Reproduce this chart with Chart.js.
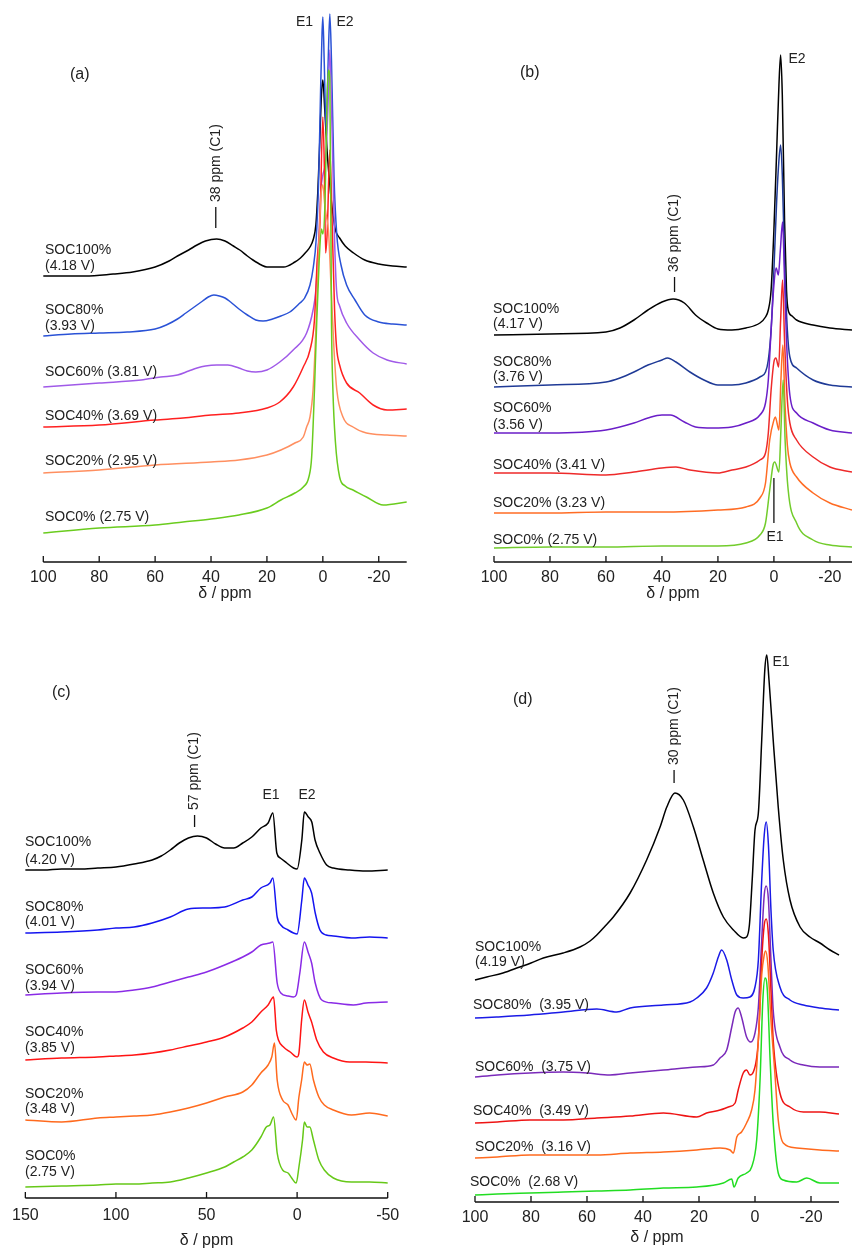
<!DOCTYPE html>
<html>
<head>
<meta charset="utf-8">
<script src="https://cdn.jsdelivr.net/npm/chart.js@4.4.0/dist/chart.umd.min.js"></script>
<style>
body { margin: 0; width: 852px; height: 1251px; overflow: hidden; background: #fff; position: relative; }
canvas { position: absolute; }
</style>
</head>
<body>
<canvas id="pa"></canvas>
<canvas id="pb"></canvas>
<canvas id="pc"></canvas>
<canvas id="pd"></canvas>
<script>
const FONT = '"Liberation Sans", Arial, sans-serif';

// ---- panel (a) : shift in ppm / intensity (a.u., stacked)
const aPpm100 = [100,85,75,68,60,55,52,48,45,42,38,35,32,29.7,27,25,22,20,14,10,8,6,4.6,3.5,2.5,1.8,1.2,0.5,0,-0.7,-1.5,-2.5,-3.5,-4.5,-6,-8,-11,-15,-20,-25,-30];
const aSoc100 = [286,286,288,290,295,301,306,312,317,321,323,321,316,312,306,302,297,295,295,300,304,310,315,322,337,370,412,467,482,452,412,377,350,332,324,316,309,302,298,296,295];
const aPpm80 = [100,90,80,70,60,56,52,49,46,43,41,39,37,35,33,30,27,24,21.4,18,15,11.8,8.2,6.5,4.6,3.4,2.4,1.5,0.8,0.3,0,-0.5,-1.2,-1.9,-2.5,-3.1,-4,-5,-6.5,-8.5,-11.5,-15,-20,-25,-30];
const aSoc80 = [226,228,229,230,233,237,243,249,255,261,265,267,266,264,260,253,247,242,241,243,246,250,259,264,277,295,322,382,472,527,545,500,430,500,548,500,385,327,297,277,262,247,240,238,237];
const aPpm60 = [100,80,65,58,52,48,45,42,38,34,30,27,24,20,15.4,10.6,5.8,3.5,2.5,1.5,0.7,0,-1,-1.8,-2.5,-3.3,-4.2,-4.9,-6,-8.5,-13.2,-18,-23,-30];
const aSoc60 = [175,179,182,185,187,191,194,196,197,197,194,191,190,192,200,212,229,252,272,322,372,387,402,452,512,432,322,272,256,239,222,209,202,198];
const aPpm40 = [100,80,60,50,40,30,20,15.4,10.6,7,4.6,3,2,1,0,-0.5,-1,-1.6,-2.5,-3.3,-4.2,-4.9,-6,-8.5,-13.2,-18,-23,-30];
const aSoc40 = [135,137,142,144,147,149,154,160,175,195,212,242,302,340,445,400,309,332,412,342,252,215,197,179,169,157,152,153];
const aPpm20 = [100,80,60,40,30,20,15,10,7,5.8,4.6,3.5,2.5,1.5,0.5,0,-0.7,-1.3,-2,-3,-4,-5,-7.2,-10.8,-15.6,-23,-30];
const aSoc20 = [89,92,97,100,102,107,112,119,125,135,145,172,232,312,372,377,357,345,332,272,212,172,145,135,129,127,126];
const aPpm0 = [100,80,60,50,40,30,20,15,10,7,5,4,3,2.2,1.3,0.5,0,-0.8,-1.5,-2,-2.5,-3.1,-3.6,-4.5,-6,-8,-10.8,-15.6,-21.6,-30];
const aSoc0 = [29,34,37,40,43,47,54,62,69,75,85,105,172,239,302,333,328,362,462,492,482,239,172,120,85,76,72,65,57,60];

// ---- panel (b)
const bPpm100 = [100,80,60,55,50,45,40,36,32,28,24,20,15,10,5,3,2,1,0,-1,-1.8,-2.4,-3,-3.8,-4.5,-5.1,-6.5,-8.1,-14,-20,-27.9];
const bSoc100 = [227,228,230,234,242,252,260,263,259,247,239,233,232,234,239,245,252,272,332,412,477,507,467,342,272,252,246,242,237,234,232];
const bPpm80 = [100,80,60,55,50,45,40,38,35,30,25,20,15,10,5,3,2,1,0,-1,-1.8,-2.4,-3,-3.8,-4.8,-5.7,-8.1,-14,-20,-27.9];
const bSoc80 = [175,177,180,184,190,197,202,204,200,190,182,177,177,179,185,190,202,232,292,362,402,417,387,302,232,205,194,182,177,175];
const bPpm60 = [100,80,60,50,45,40,37,32,28,22,15,10,5,3,2,1,0,-0.8,-1.6,-2.3,-3.1,-3.8,-4.5,-5.7,-8.1,-14,-20,-27.9];
const bSoc60 = [129,129,132,139,144,147,147,140,135,134,135,139,147,159,182,232,277,294,287,312,340,282,222,167,149,139,132,129];
const bPpm40 = [100,80,60,50,40,35,30,20,15,10,5,3,2,1,0,-0.7,-1.7,-2.4,-3.1,-3.8,-4.8,-5.7,-8.1,-14,-20,-27.9];
const bSoc40 = [89,89,87,90,94,95,92,89,92,95,102,109,129,172,200,204,195,242,282,222,162,139,122,105,95,90];
const bPpm20 = [100,80,60,40,20,10,5,3,1.5,0,-0.5,-1.8,-2.5,-3.2,-3.9,-4.8,-5.7,-8.1,-14,-20,-27.9];
const bSoc20 = [49,49,50,50,52,55,64,79,122,142,145,132,182,217,162,117,99,85,69,59,52];
const bPpm0 = [100,80,60,40,20,10,5,3,1.5,0.3,-0.3,-1.8,-2.5,-3.3,-4,-5.1,-8.1,-14,-20,-27.9];
const bSoc0 = [14,15,15,16,16,19,27,39,72,97,100,90,132,182,122,72,39,22,17,15];

// ---- panel (c)
const cPpm100 = [150,140,130,120,110,100,90,80,75,70,65,60,55,50,45,40,35,30,25,20,16,13.4,11.2,9.3,5.7,2,0,-2.6,-4,-6.2,-8.1,-9.9,-12.6,-16.3,-20,-29,-38,-50];
const cSoc100 = [328,328,329,329,330,331,334,338,342,348,355,360,362,360,354,350,350,355,361,370,375,385,345,340,335,330,329,358,386,381,376,358,345,333,330,328,327,328];
const cPpm80 = [150,130,110,100,90,80,70,60,50,40,30,25,20,15,13.4,11,9,5,2,0,-2.6,-4,-6,-8,-10,-12.6,-16,-20,-30,-40,-50];
const cSoc80 = [265,266,268,270,271,275,281,289,290,291,298,301,310,315,320,281,273,268,265,264,298,320,313,305,285,268,263,262,260,261,260];
const cPpm60 = [150,130,110,100,90,80,70,60,50,40,30,25,20,15,13.4,11,9,5,2,0.5,-1.5,-4,-6.2,-8,-10,-13.6,-20,-31,-38,-50];
const cSoc60 = [203,205,206,206,208,211,216,221,226,233,241,246,253,255,256,215,205,202,201,203,225,256,245,235,215,198,195,193,195,196];
const cPpm40 = [150,130,110,100,90,80,70,60,50,40,30,25,20,16,13,11.5,10.3,7.5,3.8,0,-1,-2.5,-4,-6,-8,-10.8,-14.5,-20,-29,-38,-50];
const cSoc40 = [138,140,141,142,143,145,148,152,156,161,170,176,186,193,201,168,158,151,146,141,145,178,198,186,176,158,146,140,136,136,135];
const cPpm20 = [150,130,110,100,90,80,70,60,50,40,30,25,20,16,14,12.5,11,8,5,3,0.5,-1,-2.5,-4,-5.5,-7,-9,-12,-15,-20,-30,-40,-50];
const cSoc20 = [78,76,80,81,82,83,86,90,95,101,106,113,125,133,141,155,118,98,93,85,78,101,118,136,133,134,118,101,93,88,83,85,82];
const cPpm0 = [150,130,110,100,90,80,70,60,50,40,35,30,25,20,17,15,13,11,8,5,3,0.5,-1,-3,-4,-5.5,-7,-9,-12,-15,-20,-30,-40,-50];
const cSoc0 = [11,12,13,14,14,15,16,20,25,31,36,41,48,61,71,73,81,45,28,25,20,15,31,58,76,71,71,58,38,28,20,16,16,15];

// ---- panel (d)
const dPpm100 = [100,95.8,90,84,80,75.6,68.5,62.5,58.9,56.5,53.5,50.6,44.6,38.7,33.9,31.5,28.6,25.6,22,18.5,14.9,11.3,7.7,4.2,3,2,1,0,-1.2,-2.4,-3.5,-4.2,-5,-6.5,-8.3,-10.1,-12.5,-16.1,-19.6,-23.2,-26.8,-30];
const dSoc100 = [222,225,229,235,239,244,249,255,261,267,276,285,309,342,375,395,409,402,375,342,309,285,272,264,265,277,322,372,389,462,532,547,522,462,395,342,302,275,265,259,252,247];
const dPpm80 = [100,92.3,80.4,68.5,56.5,49.4,44.6,32.7,23.2,20.8,17.3,14.9,13.1,11.9,10.1,8.3,6.5,4.2,1.8,0,-1.2,-2.4,-3.3,-4,-4.8,-5.7,-6.5,-8.9,-12.5,-17.3,-23.2,-30];
const dSoc80 = [184,185,187,190,193,190,194,197,200,204,214,229,245,252,242,222,207,204,205,215,242,322,367,380,357,292,252,215,202,197,194,192];
const dPpm60 = [100,92,80.4,68.5,60,51.8,44.6,32.7,20.8,14.9,12.5,10.1,8.3,7.1,6,4.8,3,1.5,0,-1.2,-2.4,-3.3,-4,-4.8,-5.7,-6.5,-8.9,-12.5,-17.3,-23.2,-30];
const dSoc60 = [125,127,129,130,129,127,129,132,135,137,144,152,175,190,194,185,165,160,169,195,262,307,316,302,242,192,155,142,137,135,135];
const dPpm40 = [100,92,80.4,68.5,56.5,44.6,32.7,20.8,17.3,12.5,9.5,7.1,6,4.2,3,1.8,0.6,-1.2,-2.4,-3.3,-4,-4.8,-5.7,-6.5,-8.9,-12.5,-17.3,-23.2,-30];
const dSoc40 = [79,80,82,82,84,86,89,85,89,92,95,99,112,129,132,127,130,162,242,277,283,267,212,162,109,95,90,90,88];
const dPpm20 = [100,92,80.4,68.5,56.5,44.6,32.7,20.8,12.5,8.9,7.7,6.5,4.8,3,1.2,0,-1.2,-2.4,-3.3,-3.8,-4.6,-5.7,-7.1,-8.3,-10.1,-14.9,-23.2,-30];
const dSoc20 = [44,45,47,47,47,49,50,52,54,52,49,65,70,79,92,112,162,227,247,251,237,182,129,82,59,54,52,51];
const dPpm0 = [100,92,80.4,68.5,56.5,44.6,32.7,20.8,11.3,8.3,7.5,6,3,1.2,-0.6,-1.8,-2.8,-3.6,-4.4,-5.4,-6.5,-8.3,-10.1,-14.9,-18.5,-23.2,-30];
const dSoc0 = [7,8,9,10,11,12,14,15,19,23,15,24,29,35,62,122,202,224,212,142,79,29,22,20,24,19,19];

const aColors = ['#000000', '#2a52d6', '#a05ae8', '#ff2020', '#ff8f60', '#6acc1e'];
const bColors = ['#000000', '#1f3a96', '#6a1ec8', '#ee2a2a', '#ff6c24', '#72cc2c'];
const cColors = ['#000000', '#1414f0', '#8a2be6', '#ff1414', '#ff6a1e', '#66c818'];
const dColors = ['#000000', '#1a1ae6', '#7a2aba', '#ee1414', '#ff6a1e', '#22dd22'];

// text: [string, pageX, pageY, size, align]
const aTexts = [
    ['(a)', 70, 75, 16], ['E1', 304.5, 22, 14, 'center'], ['E2', 345, 22, 14, 'center'],
    ['SOC100%', 45, 250], ['(4.18 V)', 45, 266], ['SOC80%', 45, 310], ['(3.93 V)', 45, 326],
    ['SOC60% (3.81 V)', 45, 372], ['SOC40% (3.69 V)', 45, 416], ['SOC20% (2.95 V)', 45, 461],
    ['SOC0% (2.75 V)', 45, 517]
];
const bTexts = [
    ['(b)', 520, 73, 16], ['E2', 797, 59, 14, 'center'], ['E1', 775, 537, 14, 'center'],
    ['SOC100%', 493, 309], ['(4.17 V)', 493, 324], ['SOC80%', 493, 362], ['(3.76 V)', 493, 377],
    ['SOC60%', 493, 408], ['(3.56 V)', 493, 425], ['SOC40% (3.41 V)', 493, 465],
    ['SOC20% (3.23 V)', 493, 503], ['SOC0% (2.75 V)', 493, 540]
];
const cTexts = [
    ['(c)', 52, 693, 16], ['E1', 271, 795, 14, 'center'], ['E2', 307, 795, 14, 'center'],
    ['SOC100%', 25, 842], ['(4.20 V)', 25, 860], ['SOC80%', 25, 907], ['(4.01 V)', 25, 922],
    ['SOC60%', 25, 970], ['(3.94 V)', 25, 986], ['SOC40%', 25, 1032], ['(3.85 V)', 25, 1048],
    ['SOC20%', 25, 1094], ['(3.48 V)', 25, 1109], ['SOC0%', 25, 1156], ['(2.75 V)', 25, 1172]
];
const dTexts = [
    ['(d)', 513, 700, 16], ['E1', 781, 662, 14, 'center'],
    ['SOC100%', 475, 947], ['(4.19 V)', 475, 962], ['SOC80%  (3.95 V)', 473, 1005],
    ['SOC60%  (3.75 V)', 475, 1067], ['SOC40%  (3.49 V)', 473, 1111],
    ['SOC20%  (3.16 V)', 475, 1147], ['SOC0%  (2.68 V)', 470, 1182]
];
// marker lines: [ppm, pageY top, pageY bottom, rotated text]
const aMarks = [[38.3, 207, 228, '38 ppm (C1)']];
const bMarks = [[35.5, 277, 292, '36 ppm (C1)'], [0, 478, 523]];
const cMarks = [[56.6, 815, 827, '57 ppm (C1)']];
const dMarks = [[28.9, 770, 783, '30 ppm (C1)']];

const panels = [
    { id: 'pa', left: 43.3, right: 406.7, top: 0, axis: 562, min: -30, max: 100, step: 20, padL: 30, padR: 30, tickPad: 6, titleOff: 31,
      ppm: [aPpm100, aPpm80, aPpm60, aPpm40, aPpm20, aPpm0], vals: [aSoc100, aSoc80, aSoc60, aSoc40, aSoc20, aSoc0],
      colors: aColors, texts: aTexts, marks: aMarks },
    { id: 'pb', left: 494, right: 852, top: 0, axis: 562, min: -27.9, max: 100, step: 20, padL: 30, padR: 0, tickPad: 6, titleOff: 31,
      ppm: [bPpm100, bPpm80, bPpm60, bPpm40, bPpm20, bPpm0], vals: [bSoc100, bSoc80, bSoc60, bSoc40, bSoc20, bSoc0],
      colors: bColors, texts: bTexts, marks: bMarks },
    { id: 'pc', left: 24, right: 387.7, top: 640, axis: 1198, min: -50, max: 150, step: 50, padL: 20, padR: 30, tickPad: 8, titleOff: 42,
      ppm: [cPpm100, cPpm80, cPpm60, cPpm40, cPpm20, cPpm0], vals: [cSoc100, cSoc80, cSoc60, cSoc40, cSoc20, cSoc0],
      colors: cColors, texts: cTexts, marks: cMarks },
    { id: 'pd', left: 475, right: 839, top: 640, axis: 1202, min: -30, max: 100, step: 20, padL: 30, padR: 12, tickPad: 6, titleOff: 35,
      ppm: [dPpm100, dPpm80, dPpm60, dPpm40, dPpm20, dPpm0], vals: [dSoc100, dSoc80, dSoc60, dSoc40, dSoc20, dSoc0],
      colors: dColors, texts: dTexts, marks: dMarks }
];

// axis line, inward ticks, labels and markers
const decor = {
    id: 'decor',
    afterDraw(chart, args, opts) {
        const p = opts.panel;
        const ctx = chart.ctx;
        const xs = chart.scales.x;
        const area = chart.chartArea;
        ctx.save();
        ctx.strokeStyle = '#111';
        ctx.lineWidth = 1.3;
        ctx.beginPath();
        ctx.moveTo(area.left, area.bottom);
        ctx.lineTo(area.right, area.bottom);
        xs.ticks.forEach(t => {
            const x = xs.getPixelForValue(t.value);
            ctx.moveTo(x, area.bottom);
            ctx.lineTo(x, area.bottom - 6);
        });
        ctx.stroke();

        ctx.fillStyle = '#222';
        p.marks.forEach(m => {
            const x = xs.getPixelForValue(m[0]);
            ctx.lineWidth = 1.3;
            ctx.beginPath();
            ctx.moveTo(x, m[1] - p.top);
            ctx.lineTo(x, m[2] - p.top);
            ctx.stroke();
            if (m[3]) {
                ctx.save();
                ctx.translate(x, m[1] - p.top - 5);
                ctx.rotate(-Math.PI / 2);
                ctx.font = '14px ' + FONT;
                ctx.textAlign = 'left';
                ctx.textBaseline = 'middle';
                ctx.fillText(m[3], 0, 0);
                ctx.restore();
            }
        });

        p.texts.forEach(t => {
            ctx.font = (t[3] || 14) + 'px ' + FONT;
            ctx.textAlign = t[4] || 'left';
            ctx.textBaseline = 'middle';
            ctx.fillText(t[0], t[1] - p.cl, t[2] - p.top);
        });
        ctx.restore();
    }
};

panels.forEach(p => {
    const H = p.titleOff + 10;
    p.cl = Math.floor(p.left - p.padL);
    const w = Math.round(p.right - p.cl + p.padR);
    const h = Math.round(p.axis - p.top + H);
    const cv = document.getElementById(p.id);
    cv.width = w;
    cv.height = h;
    cv.style.left = p.cl + 'px';
    cv.style.top = p.top + 'px';
    cv.style.width = w + 'px';
    cv.style.height = h + 'px';

    const datasets = p.vals.map((v, i) => ({
        data: p.ppm[i].map((x, j) => ({ x: x, y: v[j] })),
        borderColor: p.colors[i],
        borderWidth: 1.5,
        pointRadius: 0,
        fill: false,
        cubicInterpolationMode: 'monotone',
        clip: false,
        order: 5 - i
    }));

    new Chart(cv, {
        type: 'line',
        data: { datasets: datasets },
        options: {
            responsive: false,
            animation: false,
            devicePixelRatio: 1,
            events: [],
            layout: { padding: { left: p.left - p.cl, right: w - (p.right - p.cl), top: 0, bottom: 0 } },
            plugins: { legend: { display: false }, tooltip: { enabled: false }, decor: { panel: p } },
            scales: {
                x: {
                    type: 'linear',
                    reverse: true,
                    min: p.min,
                    max: p.max,
                    grid: { display: false, drawTicks: false },
                    border: { display: false },
                    ticks: { stepSize: p.step, includeBounds: false, padding: p.tickPad, color: '#222', maxRotation: 0, autoSkip: false,
                             font: { size: 16, family: FONT } },
                    title: { display: true, text: 'δ / ppm', color: '#222', padding: 0, font: { size: 16, family: FONT } },
                    afterFit: s => { s.height = H; }
                },
                y: { type: 'linear', display: false, min: 0, max: p.axis - p.top }
            }
        },
        plugins: [decor]
    });
});
</script>
</body>
</html>
